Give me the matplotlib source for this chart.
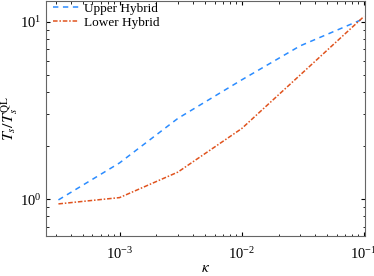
import matplotlib
matplotlib.use("Agg")
import matplotlib.pyplot as plt
import numpy as np

plt.rcParams['font.family'] = ['Liberation Serif', 'DejaVu Serif']
plt.rcParams['mathtext.fontset'] = 'stix'

kappa = [3.16e-4, 1e-3, 3e-3, 1e-2, 3e-2, 1e-1]
upper = [0.99, 1.6, 2.85, 4.7, 7.3, 10.4]
lower = [0.94, 1.02, 1.42, 2.5, 5.0, 10.7]

fig = plt.figure(figsize=(3.74, 2.76), dpi=100)
ax = fig.add_axes([0.123, 0.145, 0.853, 0.852])

ax.plot(kappa, upper, color='#2b8cff', lw=1.1, dashes=(3.5, 3), label='Upper Hybrid')
ax.plot(kappa, lower, color='#e0531e', lw=1.1, dashes=(3, 1.2, 1, 1.2), label='Lower Hybrid')

ax.set_xscale('log')
ax.set_yscale('log')
ax.set_xlim(2.5e-4, 1.02e-1)
ax.set_ylim(0.62, 13.1)

ax.tick_params(which='both', direction='in', top=True, right=True, labelsize=10.5)
ax.tick_params(which='major', length=3)
ax.tick_params(which='minor', length=1.8)
ax.tick_params(axis='x', pad=7)
for s in ax.spines.values():
    s.set_color('#666666')
    s.set_linewidth(0.8)

ax.set_xlabel(r'$\kappa$', fontsize=11, labelpad=0)
ax.set_ylabel(r'$T_s/T_s^{\rm QL}$', fontsize=11.5, labelpad=0)

ax.legend(loc='upper left', frameon=False, fontsize=9.5, handlelength=2.0,
          borderaxespad=0.1, labelspacing=0.1, handletextpad=0.4,
          bbox_to_anchor=(0.0, 1.02))

fig.savefig('out.png', dpi=100)
